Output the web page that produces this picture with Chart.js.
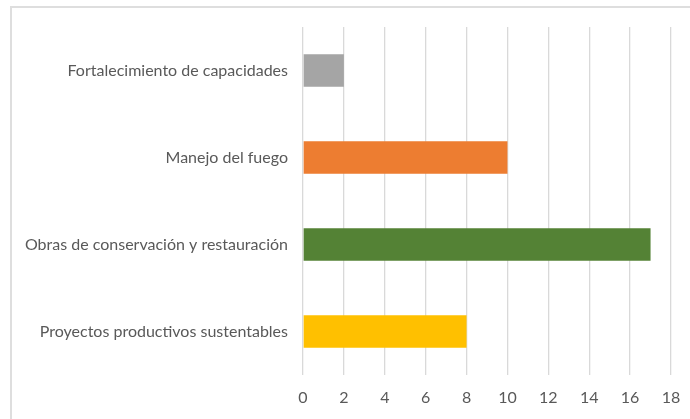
<!DOCTYPE html>
<html>
<head>
<meta charset="utf-8">
<script src="https://cdn.jsdelivr.net/npm/chart.js@4"></script>
<style>
    html, body { margin: 0; padding: 0; background: #fff; overflow: hidden; }
    #frame { position: absolute; left: 10px; top: 6px; width: 700px; height: 440px; border: 2px solid #dedede; }
    #wrap { position: absolute; left: 0; top: 0; width: 690px; height: 419px; }
</style>
</head>
<body>
<div id="frame"></div>
<div id="wrap"><canvas id="barChart" width="690" height="419"></canvas></div>
<script>
    // Data
    var categories = ["Fortalecimiento de capacidades", "Manejo del fuego", "Obras de conservación y restauración", "Proyectos productivos sustentables"];
    var values = [2, 10, 17, 8];
    var barColors = ["#A5A5A5", "#ED7D31", "#548235", "#FFC000"];
    var xTicks = [0, 2, 4, 6, 8, 10, 12, 14, 16, 18];

    var fontFamily = "Lato, sans-serif";

    var ctx = document.getElementById("barChart").getContext("2d");
    new Chart(ctx, {
        type: "bar",
        data: {
            labels: categories,
            datasets: [{
                data: values,
                backgroundColor: barColors,
                borderWidth: 0,
                barPercentage: 0.62,
                categoryPercentage: 0.6
            }]
        },
        options: {
            indexAxis: "y",
            responsive: false,
            animation: false,
            layout: { padding: { top: 27, right: 19, left: 0, bottom: 0 } },
            plugins: { legend: { display: false }, tooltip: { enabled: false } },
            scales: {
                x: {
                    min: xTicks[0],
                    max: xTicks[xTicks.length - 1],
                    afterBuildTicks: function (axis) {
                        axis.ticks = xTicks.map(v => ({ value: v }));
                    },
                    afterFit: function (axis) {
                        axis.height = 44;
                        axis.paddingLeft = 0;
                        axis.paddingRight = 0;
                    },
                    grid: { color: "#d9d9d9", lineWidth: 1.3, drawTicks: false },
                    border: { display: false },
                    ticks: { color: "#595959", padding: 13, font: { family: fontFamily, size: 16 } }
                },
                y: {
                    afterFit: function (axis) { axis.width = 303; },
                    grid: { display: false, drawTicks: false },
                    border: { display: false },
                    ticks: { color: "#595959", padding: 15, font: { family: fontFamily, size: 16 } }
                }
            }
        }
    });
</script>
</body>
</html>
